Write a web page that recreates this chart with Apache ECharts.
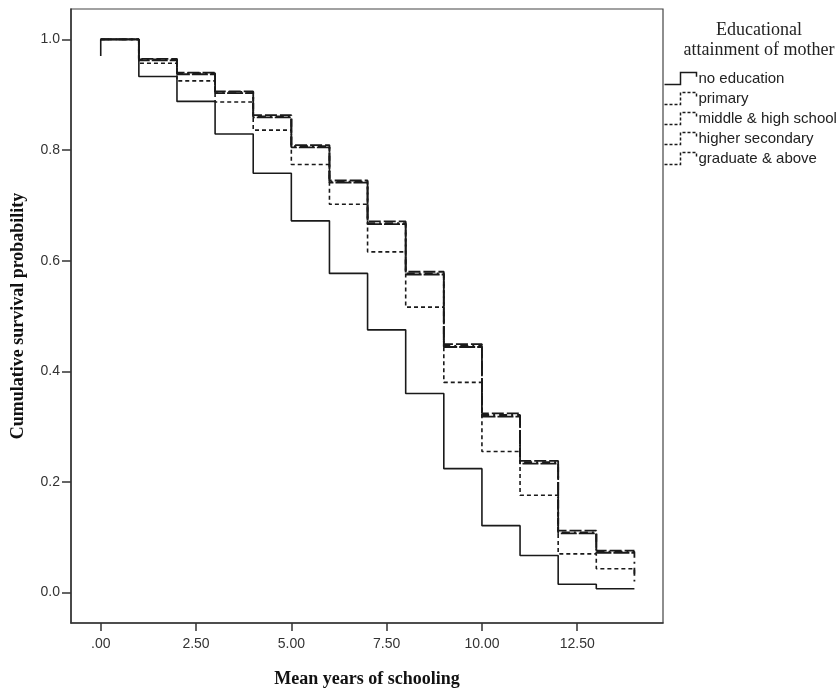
<!DOCTYPE html>
<html>
<head>
<meta charset="utf-8">
<script src="https://cdn.jsdelivr.net/npm/echarts@6/dist/echarts.min.js"></script>
<style>
  html, body { margin: 0; padding: 0; background: #fff; }
  #chart { width: 840px; height: 689px; }
</style>
</head>
<body>
<div id="chart"></div>
<script>
// years at which the survival value starts (last one is end of follow-up)
var years = [0, 1, 2, 3, 4, 5, 6, 7, 8, 9, 10, 11, 12, 13, 14];
var xTicks = [0, 2.5, 5, 7.5, 10, 12.5];
var yTicks = [0, 0.2, 0.4, 0.6, 0.8, 1.0];

// survival on each interval [k, k+1)
var noEducation = [1.0, 0.933, 0.888, 0.829, 0.758, 0.672, 0.577, 0.475, 0.360, 0.224, 0.121, 0.067, 0.015, 0.007];
var primary     = [1.0, 0.957, 0.925, 0.887, 0.836, 0.774, 0.702, 0.616, 0.516, 0.380, 0.255, 0.176, 0.070, 0.043];
var middleHigh  = [1.0, 0.965, 0.940, 0.906, 0.863, 0.809, 0.745, 0.671, 0.580, 0.449, 0.324, 0.238, 0.112, 0.076];
var higherSec   = [1.0, 0.962, 0.937, 0.903, 0.859, 0.805, 0.741, 0.666, 0.575, 0.444, 0.318, 0.233, 0.107, 0.072];
var graduate    = [1.0, 0.964, 0.939, 0.905, 0.861, 0.807, 0.743, 0.668, 0.577, 0.446, 0.321, 0.236, 0.109, 0.074];

// value at the very start / drop at the end (null = none)
var startValue = { noEducation: 0.97 };
var endDrop = { primary: 0.03, graduate: 0.02 };

var names = ['no education', 'primary', 'middle & high school', 'higher secondary', 'graduate & above'];
var dashes = ['solid', [4, 3], [12, 3], [16, 2], [8, 4, 2, 4]];

// little step shape used as legend key
var stepIcon = 'path://M0,12 L13,12 L13,1 L26,1 L26,5';

function toSteps(vals, start, drop) {
  var pts = [];
  if (start != null) pts.push([years[0], start]);
  for (var i = 0; i < vals.length; i++) {
    pts.push([years[i], vals[i]]);
  }
  pts.push([years[vals.length], vals[vals.length - 1]]);
  if (drop != null) pts.push([years[vals.length], drop]);
  return pts;
}

function stepSeries(idx, vals, start, drop, width) {
  return {
    name: names[idx],
    type: 'line',
    step: 'end',
    showSymbol: false,
    symbol: 'none',
    animation: false,
    data: toSteps(vals, start, drop),
    lineStyle: { color: '#1a1a1a', width: width, type: dashes[idx] },
    itemStyle: { color: '#1a1a1a' }
  };
}

var legendData = names.map(function (n, i) {
  return {
    name: n,
    icon: stepIcon,
    itemStyle: {
      color: 'none',
      borderColor: '#1a1a1a',
      borderWidth: 1.5,
      borderType: dashes[i] === 'solid' ? 'solid' : [3, 2]
    }
  };
});

var chart = echarts.init(document.getElementById('chart'));

var option = {
  backgroundColor: '#fff',
  animation: false,
  title: {
    text: 'Educational\nattainment of mother',
    left: 754,
    top: 15,
    textAlign: 'center',
    textStyle: {
      fontFamily: 'Liberation Serif',
      fontWeight: 'normal',
      fontSize: 18,
      lineHeight: 20,
      color: '#222'
    }
  },
  legend: {
    orient: 'vertical',
    left: 662,
    top: 70,
    padding: 0,
    itemWidth: 32,
    itemHeight: 12,
    itemGap: 3,
    symbolKeepAspect: false,
    data: legendData,
    textStyle: { fontFamily: 'Liberation Sans', fontSize: 15, color: '#222', padding: [0, 0, 0, -3] }
  },
  grid: {
    left: 71,
    right: 177,
    top: 9,
    bottom: 66,
    outerBoundsMode: 'none',
    show: true,
    borderColor: '#444',
    borderWidth: 1.2
  },
  xAxis: {
    type: 'value',
    min: -0.78,
    max: 14.75,
    name: 'Mean years of schooling',
    nameLocation: 'middle',
    nameGap: 47,
    nameTextStyle: { fontFamily: 'Liberation Serif', fontWeight: 'bold', fontSize: 18, color: '#111' },
    axisLine: { show: true, onZero: false, lineStyle: { color: '#333', width: 1.5 } },
    axisTick: { show: true, length: 8, customValues: xTicks, lineStyle: { color: '#333', width: 1.5 } },
    axisLabel: {
      customValues: xTicks,
      fontFamily: 'Liberation Sans',
      fontSize: 14,
      color: '#333',
      margin: 14,
      formatter: function (v) { return v === 0 ? '.00' : v.toFixed(2); }
    },
    splitLine: { show: false }
  },
  yAxis: {
    type: 'value',
    min: -0.055,
    max: 1.055,
    name: 'Cumulative survival probability',
    nameLocation: 'middle',
    nameGap: 44,
    nameTextStyle: { fontFamily: 'Liberation Serif', fontWeight: 'bold', fontSize: 18, color: '#111' },
    axisLine: { show: true, onZero: false, lineStyle: { color: '#333', width: 1.5 } },
    axisTick: { show: true, length: 9, customValues: yTicks, lineStyle: { color: '#333', width: 1.5 } },
    axisLabel: {
      customValues: yTicks,
      fontFamily: 'Liberation Sans',
      fontSize: 14,
      color: '#333',
      margin: 11,
      formatter: function (v) { return v.toFixed(1); }
    },
    splitLine: { show: false }
  },
  series: [
    stepSeries(0, noEducation, startValue.noEducation, null, 1.6),
    stepSeries(1, primary, null, endDrop.primary, 1.6),
    stepSeries(2, middleHigh, null, null, 1.8),
    stepSeries(3, higherSec, null, null, 1.8),
    stepSeries(4, graduate, null, endDrop.graduate, 1.8)
  ]
};

chart.setOption(option);
</script>
</body>
</html>
